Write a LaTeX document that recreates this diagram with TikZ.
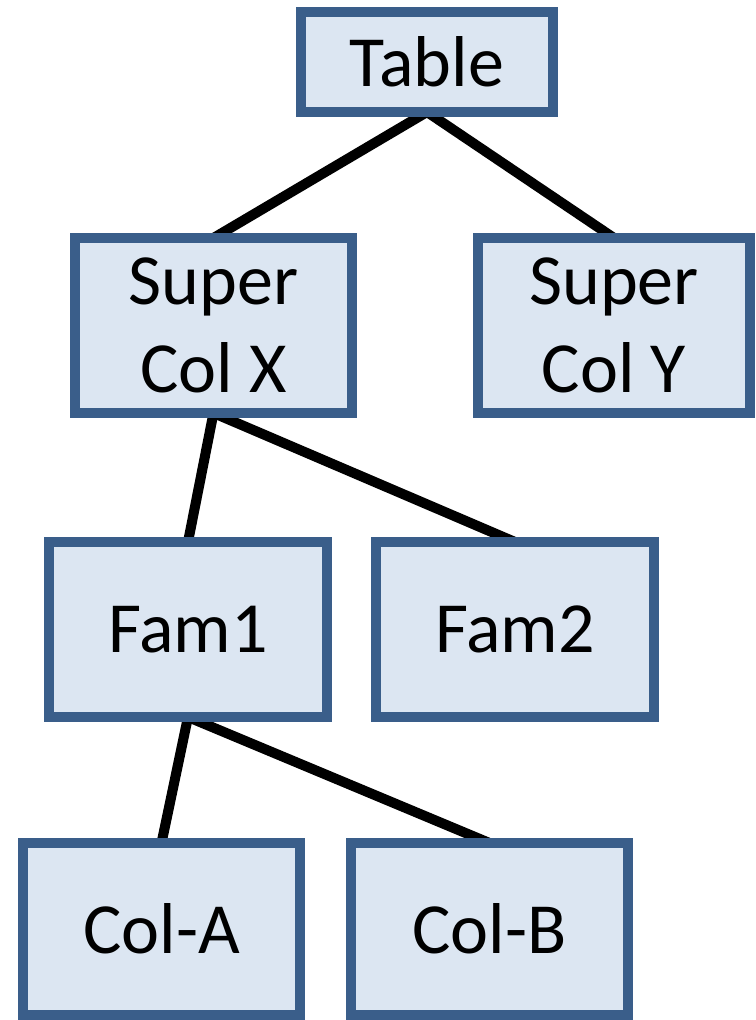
\documentclass[tikz,border=0pt]{standalone}
\usepackage{fontspec}
\setmainfont{Carlito}
\usetikzlibrary{backgrounds}
\definecolor{boxfill}{HTML}{DCE6F2}
\definecolor{boxline}{HTML}{3A5E8A}
\begin{document}
\begin{tikzpicture}[x=1pt,y=-1pt,
  box/.style={draw=boxline, fill=boxfill, line width=10pt, rectangle,
    inner sep=0pt, outer sep=0pt, align=center, text=black,
    font=\fontsize{72}{88}\selectfont},
  conn/.style={draw=black, line width=10pt}]
\useasboundingbox (0,0) rectangle (755,1020);
\node[box, minimum width=252pt, minimum height=100pt] (tab) at (427,62) {Table};
\node[box, minimum width=277pt, minimum height=175pt] (scx) at (213.5,325.5) {Super\\Col X};
\node[box, minimum width=272pt, minimum height=175pt] (scy) at (614,325.5) {Super\\Col Y};
\node[box, minimum width=278pt, minimum height=175pt] (fam1) at (188,629.5) {Fam1};
\node[box, minimum width=278pt, minimum height=175pt] (fam2) at (515,629.5) {Fam2};
\node[box, minimum width=277pt, minimum height=172pt] (cola) at (161.5,929) {Col-A};
\node[box, minimum width=277pt, minimum height=172pt] (colb) at (489.5,929) {Col-B};
\begin{scope}[on background layer]
\draw[conn] (tab.south) -- (scx.north);
\draw[conn] (tab.south) -- (scy.north);
\draw[conn] (scx.south) -- (fam1.north);
\draw[conn] (scx.south) -- (fam2.north);
\draw[conn] (fam1.south) -- (cola.north);
\draw[conn] (fam1.south) -- (colb.north);
\end{scope}
\end{tikzpicture}
\end{document}
